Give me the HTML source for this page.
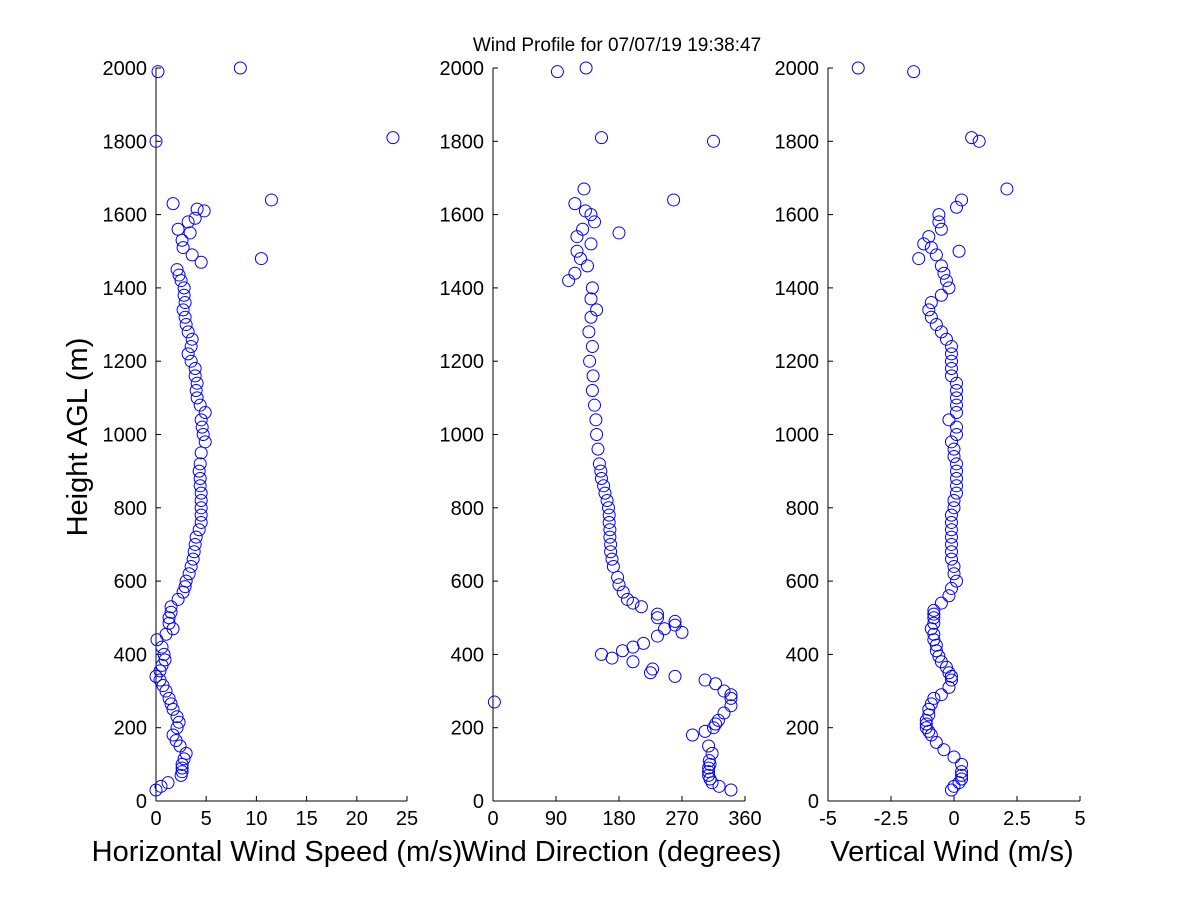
<!DOCTYPE html>
<html><head><meta charset="utf-8"><style>
body{margin:0;background:#fff;width:1200px;height:900px;overflow:hidden}
svg{font-family:"Liberation Sans",sans-serif}
</style></head><body>
<svg id="chart" width="1200" height="900" xmlns="http://www.w3.org/2000/svg">
<text x="617" y="51" font-size="19" text-anchor="middle">Wind Profile for  07/07/19 19:38:47</text>
<text transform="translate(87,437) rotate(-90)" font-size="29" text-anchor="middle">Height AGL (m)</text>
</svg>
<script>
const yTicks=[0,200,400,600,800,1000,1200,1400,1600,1800,2000];
const speedTicks=[0,5,10,15,20,25];
const dirTicks=[0,90,180,270,360];
const vertTicks=[-5,-2.5,0,2.5,5];
const vertTickLabels=["-5","-2.5","0","2.5","5"];
const speedH=[30,40,50,70,80,90,100,115,130,150,165,180,200,215,230,250,265,280,300,315,330,340,355,370,385,400,420,440,455,470,485,500,515,530,550,570,585,600,620,640,660,680,700,720,740,760,780,800,820,840,860,880,900,920,950,980,1000,1020,1040,1060,1080,1100,1120,1140,1160,1180,1200,1220,1240,1260,1280,1300,1320,1340,1360,1380,1400,1420,1435,1450,1470,1480,1490,1510,1530,1550,1560,1580,1590,1610,1615,1630,1640,1800,1810,1990,2000];
const speedV=[0,0.5,1.2,2.5,2.6,2.6,2.6,2.8,3,2.4,2,1.7,2.1,2.3,2.1,1.7,1.5,1.3,1,0.7,0.4,0,0.4,0.6,0.9,0.8,0.6,0.1,1,1.7,1.3,1.3,1.5,1.5,2.2,2.7,2.9,3,3.3,3.5,3.7,3.8,3.9,4,4.3,4.5,4.5,4.5,4.5,4.5,4.4,4.4,4.3,4.4,4.5,4.9,4.7,4.6,4.5,4.9,4.4,4.1,4,4.1,3.9,3.9,3.5,3.2,3.5,3.6,3.2,3,2.9,2.7,2.9,2.8,2.8,2.5,2.3,2.1,4.5,10.5,3.6,2.7,2.6,3.4,2.2,3.2,3.9,4.8,4.1,1.7,11.5,0,23.6,0.2,8.4];
const dirH=[30,40,50,60,70,80,90,100,110,130,150,180,190,200,210,220,240,260,270,280,290,300,320,330,340,350,360,380,390,400,410,420,430,450,460,470,480,490,500,510,530,540,550,570,590,610,640,660,680,700,720,740,760,780,800,820,840,860,880,900,920,960,1000,1040,1080,1120,1160,1200,1240,1280,1320,1340,1370,1400,1420,1440,1460,1480,1500,1520,1540,1550,1560,1580,1600,1610,1630,1640,1670,1800,1810,1990,2000];
const dirV=[340,323,313,310,308,308,308,310,309,313,308,285,303,315,318,322,330,340,2,340,340,330,318,303,260,225,228,200,170,155,185,200,215,235,270,245,260,260,235,235,212,200,192,186,180,178,172,170,168,168,167,167,166,166,165,163,160,158,155,154,152,150,148,147,145,142,143,138,142,137,140,148,140,142,108,117,135,125,120,140,120,180,128,145,140,132,117,258,130,315,155,92,133];
const vertH=[30,40,50,60,70,80,100,120,140,160,180,190,200,210,220,235,250,265,280,290,310,330,340,350,365,380,395,410,425,440,455,470,485,500,510,520,540,560,580,600,620,640,660,680,700,720,740,760,780,800,820,840,860,880,900,920,940,960,980,1000,1020,1040,1060,1080,1100,1120,1140,1160,1180,1200,1220,1240,1260,1280,1300,1320,1340,1360,1380,1400,1420,1440,1460,1480,1490,1500,1510,1520,1540,1560,1580,1600,1620,1640,1670,1800,1810,1990,2000];
const vertV=[-0.1,0,0.2,0.3,0.3,0.3,0.3,0,-0.4,-0.7,-0.9,-1,-1.1,-1.1,-1.1,-1,-1,-0.9,-0.8,-0.5,-0.2,-0.1,-0.1,-0.2,-0.3,-0.5,-0.6,-0.7,-0.7,-0.8,-0.8,-0.9,-0.8,-0.8,-0.8,-0.8,-0.5,-0.2,-0.1,0.1,0,0,-0.1,-0.1,-0.1,-0.1,-0.1,-0.1,-0.1,0,0,0.1,0.1,0.1,0.1,0.1,0,0,-0.1,0.1,0.1,-0.2,0.1,0.1,0.1,0.1,0.1,-0.1,-0.1,-0.1,-0.1,-0.1,-0.3,-0.5,-0.7,-0.9,-1,-0.9,-0.5,-0.2,-0.3,-0.4,-0.5,-1.4,-0.7,0.2,-0.9,-1.2,-1,-0.5,-0.6,-0.6,0.1,0.3,2.1,1,0.7,-1.6,-3.8];
const NS="http://www.w3.org/2000/svg";
const svg=document.getElementById('chart');
const yTop=68,yBot=801;
function yScale(h){return yBot-(h/2000)*(yBot-yTop);}
function mk(tag,attrs){const e=document.createElementNS(NS,tag);for(const k in attrs)e.setAttribute(k,attrs[k]);svg.appendChild(e);return e;}
const panels=[
 {x0:156,x1:407,min:0,max:25,ticks:speedTicks,labels:speedTicks.map(String),H:speedH,V:speedV,title:"Horizontal Wind Speed (m/s)",tx:277,name:'speed'},
 {x0:493,x1:745,min:0,max:360,ticks:dirTicks,labels:dirTicks.map(String),H:dirH,V:dirV,title:"Wind Direction (degrees)",tx:621,name:'direction'},
 {x0:828,x1:1080,min:-5,max:5,ticks:vertTicks,labels:vertTickLabels,H:vertH,V:vertV,title:"Vertical Wind (m/s)",tx:952,name:'vertical'}
];
panels.forEach(p=>{
 const xs=v=>p.x0+(v-p.min)/(p.max-p.min)*(p.x1-p.x0);
 let g=mk('line',{x1:p.x0,y1:yTop,x2:p.x0,y2:yBot,stroke:'#000','stroke-width':1});
 
 
 g=mk('line',{x1:p.x0,y1:yBot,x2:p.x1,y2:yBot,stroke:'#000','stroke-width':1});
 
 
 yTicks.forEach(t=>{
  const y=yScale(t);
  const l=mk('line',{x1:p.x0,y1:y,x2:p.x0+5,y2:y,stroke:'#000'});
  
  
  const tx=mk('text',{x:p.x0-9,y:y+7,'font-size':20,'text-anchor':'end'});
  tx.textContent=t;
  
  
 });
 p.ticks.forEach((t,i)=>{
  const x=xs(t);
  const l=mk('line',{x1:x,y1:yBot,x2:x,y2:yBot-5,stroke:'#000'});
  
  
  const tx=mk('text',{x:x,y:yBot+24,'font-size':20,'text-anchor':'middle'});
  tx.textContent=p.labels[i];
  
  
 });
 const tt=mk('text',{x:p.tx,y:861,'font-size':29,'text-anchor':'middle'});
 tt.textContent=p.title;
 
 
 p.H.forEach((h,i)=>{
  const c=mk('circle',{cx:xs(p.V[i]),cy:yScale(h),r:6,fill:'none',stroke:'#0000ff','stroke-width':1});
  
  
 });
});
</script>
</body></html>
